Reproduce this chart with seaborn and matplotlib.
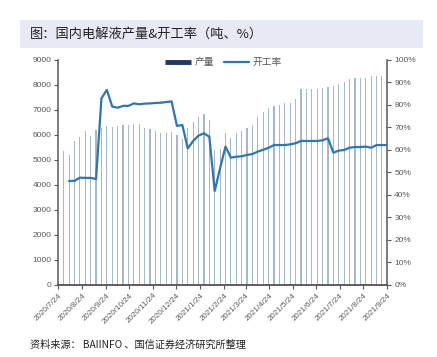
"""国内电解液产量 & 开工率 (weekly), bars on left axis, rate line on right axis."""
import pandas as pd
import matplotlib
matplotlib.use("Agg")
import matplotlib.pyplot as plt
import matplotlib.dates as mdates
from matplotlib.lines import Line2D
from matplotlib.patches import Rectangle
import seaborn as sns

# weekly production (tons), 2020/7/31 .. 2021/9/17
bar_dates = pd.date_range("2020-07-31", periods=60, freq="7D")
output_tons = [
    5360, 5200, 5760, 5930, 6160, 5970, 6200, 6290, 6360, 6320,
    6370, 6390, 6400, 6450, 6440, 6290, 6230, 6160, 6090, 6070,
    6110, 6000, 5840, 6290, 6510, 6710, 6830, 6590, 5400, 5430,
    6090, 5890, 6070, 6160, 6290, 6400, 6730, 6910, 7090, 7170,
    7200, 7270, 7290, 7440, 7830, 7830, 7840, 7840, 7890, 7920,
    7960, 8050, 8130, 8230, 8270, 8270, 8290, 8350, 8360, 8370,
]

# weekly operating rate (%), 2020/8/7 .. 2021/9/24
rate_dates = pd.date_range("2020-08-07", periods=60, freq="7D")
op_rate = [
    46.2, 46.3, 47.7, 47.6, 47.6, 47.1, 83.0, 86.7, 79.3, 78.8,
    79.6, 79.6, 80.7, 80.3, 80.6, 80.7, 80.9, 81.0, 81.3, 81.6,
    70.7, 71.1, 60.7, 64.0, 66.4, 67.4, 65.9, 41.8, 52.0, 61.5,
    56.6, 57.0, 57.2, 57.8, 58.2, 59.3, 60.1, 61.0, 62.2, 62.2,
    62.2, 62.5, 63.0, 64.0, 64.0, 64.0, 64.0, 64.3, 65.2, 58.8,
    59.7, 60.0, 61.0, 61.3, 61.3, 61.5, 61.0, 62.2, 62.2, 62.2,
]

tick_dates = pd.date_range("2020-07-24", periods=15, freq=pd.DateOffset(months=1))
tick_labels = [
    "2020/7/24", "2020/8/24", "2020/9/24", "2020/10/24", "2020/11/24",
    "2020/12/24", "2021/1/24", "2021/2/24", "2021/3/24", "2021/4/24",
    "2021/5/24", "2021/6/24", "2021/7/24", "2021/8/24", "2021/9/24",
]

title = "图：国内电解液产量&开工率（吨、%）"
source = "资料来源： BAIINFO 、国信证券经济研究所整理"

sns.set_theme(style="white")
plt.rcParams["font.family"] = ["Liberation Sans", "Noto Sans CJK SC", "DejaVu Sans"]

grey = "#595959"
bar_color = "#a5b7cb"
line_color = "#2e75b6"

fig = plt.figure(figsize=(4.37, 3.57), dpi=100)
ax = fig.add_axes([0.1334, 0.2017, 0.7529, 0.6303])
ax2 = ax.twinx()

ax.bar(bar_dates, output_tons, width=1.5, color=bar_color, linewidth=0)
sns.lineplot(x=rate_dates, y=op_rate, ax=ax2, color=line_color, linewidth=1.6, legend=False)

ax.set_xlim(pd.Timestamp("2020-07-24"), pd.Timestamp("2021-09-24"))
ax.set_ylim(0, 9000)
ax.set_yticks(range(0, 9001, 1000))
ax2.set_ylim(0, 100)
ax2.set_yticks(range(0, 101, 10))
ax2.set_yticklabels([f"{v}%" for v in range(0, 101, 10)])
ax.set_xticks(mdates.date2num(tick_dates))
ax.set_xticklabels(tick_labels, rotation=45, ha="right", rotation_mode="anchor")
ax.set_xlabel("")
ax2.set_xlabel("")
ax.set_ylabel("")
ax2.set_ylabel("")

for a in (ax, ax2):
    a.spines["top"].set_visible(False)
    for s in ("left", "right", "bottom"):
        a.spines[s].set_color(grey)
        a.spines[s].set_linewidth(1.1)
    a.tick_params(length=3, width=0.8, color=grey, labelcolor=grey, labelsize=6, pad=2)
    a.grid(False)
ax.spines["right"].set_visible(False)
ax2.spines["left"].set_visible(False)
ax.tick_params(axis="y", left=True)
ax.tick_params(axis="x", bottom=True, labelsize=5.8)
ax2.tick_params(axis="y", right=True)

handles = [
    Line2D([], [], color="#1f3864", linewidth=3.5, solid_capstyle="butt"),
    Line2D([], [], color=line_color, linewidth=1.6),
]
fig.legend(handles, ["产量", "开工率"], loc="center", bbox_to_anchor=(0.512, 0.826),
           ncol=2, frameon=False, fontsize=7, labelcolor=grey,
           handlelength=2.6, handletextpad=0.4, columnspacing=1.0)

fig.patches.append(Rectangle((0.0458, 0.8655), 0.922, 0.0785, transform=fig.transFigure,
                             facecolor="#e7e9f4", edgecolor="none", zorder=0))
fig.text(0.0686, 0.905, title, fontsize=9.5, color="#222222", va="center", ha="left",
         family=["Noto Sans CJK SC", "DejaVu Sans"])
fig.text(0.0686, 0.034, source, fontsize=7.3, color="#222222", va="center", ha="left",
         family=["Noto Sans CJK SC", "DejaVu Sans"])

fig.savefig("out.png", dpi=100)
